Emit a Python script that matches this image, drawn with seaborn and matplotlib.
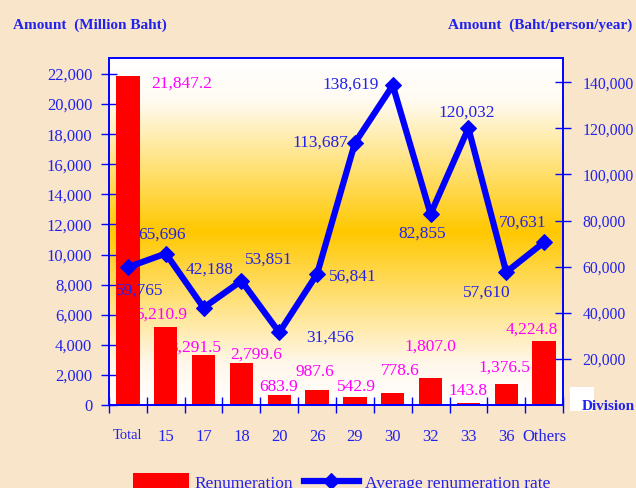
import numpy as np
import matplotlib
matplotlib.use("Agg")
import matplotlib.pyplot as plt
from matplotlib.colors import LinearSegmentedColormap
from matplotlib.patches import Rectangle
import seaborn as sns

# Datos del gráfico
divisions = ["Total", "15", "17", "18", "20", "26", "29", "30", "32", "33", "36", "Others"]
renumeration = [21847.2, 5210.9, 3291.5, 2799.6, 683.9, 987.6, 542.9, 778.6, 1807.0, 143.8, 1376.5, 4224.8]
avg_rate = [59765, 65696, 42188, 53851, 31456, 56841, 113687, 138619, 82855, 120032, 57610, 70631]

# Desplazamientos (pixeles) de las etiquetas
bar_dx = [54, -4, -8, 15, -1, -2, 2, 7, 0, 0, -2, -12]
bar_dy = [7, -12, -8, -8, -8, -18, -10, -22, -31, -12, -17, -12]
line_dx = [12, -4, 6, 27, 51, 36, -35, -42, -8, -2, -19, -21]
line_dy = [23, -19, -38, -21, 5, 3, 0, -1, 20, -16, 20, -20]

blue = "#0000ff"
text_blue = "#2222ee"
magenta = "#ff00ff"
bg = "#f9e5c9"

plt.rcParams["font.family"] = ["Liberation Serif", "DejaVu Serif"]

fig = plt.figure(figsize=(6.36, 4.88), dpi=100, facecolor=bg)
pos = [109 / 636, 1 - 405 / 488, (563 - 109) / 636, (405 - 58) / 488]

# Fondo degradado del área del gráfico
bg_ax = fig.add_axes(pos, zorder=-1)
cmap = LinearSegmentedColormap.from_list(
    "grad", [(0, "#ffffff"), (0.12, "#fffbf3"), (0.5, "#ffc800"), (0.88, "#fff7ea"), (1, "#ffffff")])
grad = np.linspace(0, 1, 256).reshape(-1, 1)
bg_ax.imshow(grad, cmap=cmap, aspect="auto", extent=[0, 1, 0, 1])
bg_ax.axis("off")

ax = fig.add_axes(pos)
ax.patch.set_visible(False)
sns.barplot(x=divisions, y=renumeration, color="#ff0000", saturation=1, width=0.62, ax=ax, zorder=2)
ax.set_xlim(-0.5, 11.5)
ax.set_ylim(0, 23060)

ax2 = ax.twinx()
sns.lineplot(x=np.arange(len(avg_rate)), y=avg_rate, ax=ax2, color=blue, linewidth=4.5,
             marker="D", markersize=8, markeredgecolor=blue)
ax2.set_ylim(0, 150500)
ax2.set_xlim(-0.5, 11.5)

# Etiquetas de barras
for i, v in enumerate(renumeration):
    ax.annotate(f"{v:,.1f}", xy=(i, v), xytext=(bar_dx[i], -bar_dy[i]), textcoords="offset pixels",
                ha="center", va="center", color=magenta, fontsize=12.5, zorder=1)

# Etiquetas de la línea
for i, v in enumerate(avg_rate):
    ax2.annotate(f"{v:,}", xy=(i, v), xytext=(line_dx[i], -line_dy[i]), textcoords="offset pixels",
                 ha="center", va="center", color=text_blue, fontsize=12.5)

# Ejes
ax.set_yticks(range(0, 22001, 2000))
ax.set_yticklabels([f"{t:,}" for t in range(0, 22001, 2000)])
ax2.set_yticks(range(20000, 140001, 20000))
ax2.set_yticklabels([f"{t:,}" for t in range(20000, 140001, 20000)])
ax.set_xticks(range(len(divisions)))
ax.set_xticklabels(divisions)
ax.set_xticks(np.arange(-0.5, 12, 1), minor=True)
ax.set_xlabel("")
ax.set_ylabel("")
ax2.set_ylabel("")

ax.tick_params(axis="y", direction="inout", length=12, width=1, color=blue, labelcolor=text_blue,
               labelsize=12, pad=6)
ax2.tick_params(axis="y", direction="inout", length=12, width=1, color=blue, labelcolor=text_blue,
                labelsize=11.3, pad=8)
ax.tick_params(axis="x", which="major", length=0, labelcolor=text_blue, labelsize=12, pad=17)
ax.tick_params(axis="x", which="minor", direction="inout", length=12, width=1, color=blue)
for lbl in ax.get_xticklabels():
    if lbl.get_text() == "Total":
        lbl.set_fontsize(10.5)

for a in (ax, ax2):
    for s in a.spines.values():
        s.set_color(blue)
        s.set_linewidth(1.2)

# Títulos de los ejes
fig.text(13 / 636, 1 - 25 / 488, "Amount  (Million Baht)", color=text_blue, fontsize=11,
         fontweight="bold", ha="left", va="center")
fig.text(632 / 636, 1 - 25 / 488, "Amount  (Baht/person/year)", color=text_blue, fontsize=11,
         fontweight="bold", ha="right", va="center")
fig.patches.append(Rectangle((570 / 636, 1 - 411 / 488), 24 / 636, 24 / 488, transform=fig.transFigure,
                             facecolor="white", edgecolor="none", zorder=3))
fig.text(582 / 636, 1 - 406 / 488, "Division", color=text_blue, fontsize=11, fontweight="bold",
         ha="left", va="center", zorder=4)

# Leyenda
fig.legend([ax.containers[0], ax2.lines[0]], ["Renumeration", "Average renumeration rate"],
           loc="upper left", bbox_to_anchor=(133 / 636, 1 - 473 / 488), ncol=2, frameon=False,
           fontsize=12.5, labelcolor=text_blue, handlelength=3.2, handleheight=1.3,
           handletextpad=0.35, columnspacing=0.6, borderpad=0, borderaxespad=0)

fig.savefig("out.png", dpi=100, facecolor=bg)
